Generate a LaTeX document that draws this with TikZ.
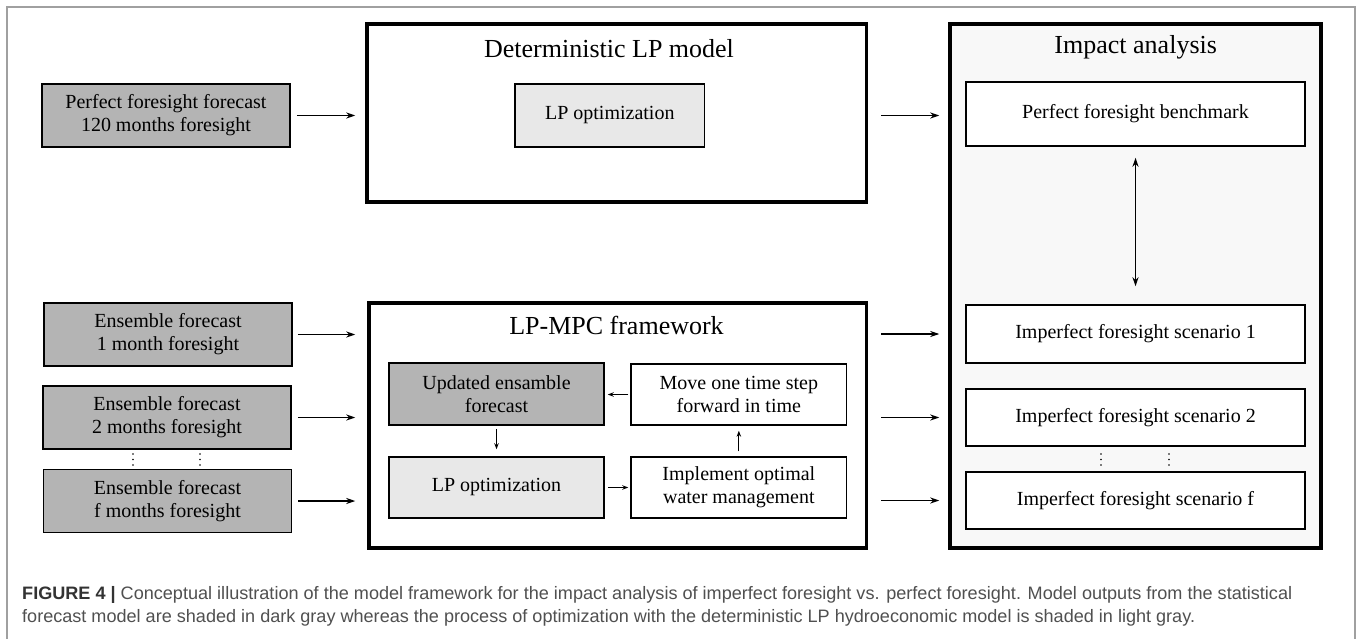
\documentclass[tikz,border=0pt]{standalone}
\usepackage{fontspec}
\setmainfont{Liberation Serif}
\newfontfamily\capfont{Liberation Sans}
\usetikzlibrary{arrows.meta}
\definecolor{darkfill}{HTML}{B4B4B4}
\definecolor{lightfill}{HTML}{E8E8E8}
\definecolor{impactfill}{HTML}{F8F8F8}
\definecolor{framegray}{HTML}{A0A0A0}
\definecolor{capdark}{HTML}{333333}
\definecolor{captext}{HTML}{505050}
\begin{document}
\begin{tikzpicture}[x=1pt,y=-1pt,
  box/.style={draw=black,line width=1.5pt,align=center,inner sep=0pt,
    font=\fontsize{20}{23}\selectfont},
  bigbox/.style={draw=black,line width=3.5pt,inner sep=0pt},
  titletext/.style={inner sep=0pt,font=\fontsize{26}{30}\selectfont},
  arr/.style={-{Stealth[length=9pt,width=6pt]},line width=1.3pt},
  smallarr/.style={-{Stealth[length=6pt,width=4.5pt]},line width=1pt},
  dbarr/.style={{Stealth[length=9pt,width=6pt]}-{Stealth[length=9pt,width=6pt]},line width=1.3pt},
  vdot/.style={fill=black,circle,inner sep=0pt,minimum size=1.8pt}
]
\useasboundingbox (0,0) rectangle (1357,639);
\fill[white] (0,0) rectangle (1357,639);
\draw[framegray,line width=2pt] (7,639) -- (7,7) -- (1355,7) -- (1355,639);

% big boxes
\node[bigbox,minimum width=499.5pt,minimum height=178pt] (det) at (616.75,113) {};
\node[bigbox,minimum width=497.5pt,minimum height=245pt] (mpc) at (617.75,425.5) {};
\node[bigbox,fill=impactfill,minimum width=371pt,minimum height=524pt] (imp) at (1135.5,286) {};

\node[titletext] (dettitle) at (609,49) {Deterministic LP model};
\node[titletext] (mpctitle) at (616.5,325) {LP-MPC framework};
\node[titletext] (imptitle) at (1135.7,47) {Impact analysis};

% left inputs
\node[box,fill=darkfill,minimum width=248pt,minimum height=63pt] (pf) at (166,115.5) {Perfect foresight forecast\\120 months foresight};
\node[box,fill=darkfill,minimum width=248pt,minimum height=63pt] (e1) at (168,334.5) {Ensemble forecast\\1 month foresight};
\node[box,fill=darkfill,minimum width=248pt,minimum height=63pt] (e2) at (167,417.5) {Ensemble forecast\\2 months foresight};
\node[box,fill=darkfill,minimum width=248pt,minimum height=63pt] (ef) at (167.5,501) {Ensemble forecast\\f months foresight};

% deterministic inner
\node[box,fill=lightfill,minimum width=189.6pt,minimum height=63pt] (lp1) at (609.8,115.5) {LP optimization};

% MPC inner
\node[box,fill=darkfill,minimum width=215pt,minimum height=62pt] (upd) at (496.5,394) {Updated ensamble\\forecast};
\node[box,fill=lightfill,minimum width=215pt,minimum height=61pt] (lp2) at (496.5,487.5) {LP optimization};
\node[box,minimum width=215.7pt,minimum height=61pt] (move) at (738.85,394.5) {Move one time step\\forward in time};
\node[box,minimum width=215.7pt,minimum height=61pt] (impl) at (738.85,487.5) {Implement optimal\\water management};

% impact inner
\node[box,fill=white,minimum width=339pt,minimum height=64pt] (bench) at (1135.5,114) {Perfect foresight benchmark};
\node[box,fill=white,minimum width=339pt,minimum height=58pt] (s1) at (1135.5,334) {Imperfect foresight scenario 1};
\node[box,fill=white,minimum width=339pt,minimum height=57pt] (s2) at (1135.5,417.5) {Imperfect foresight scenario 2};
\node[box,fill=white,minimum width=339pt,minimum height=57pt] (sf) at (1135.5,500.5) {Imperfect foresight scenario f};

% arrows left
\draw[arr,shorten <=6pt,shorten >=10pt] (pf.east) -- (pf.east -| det.west);
\draw[arr,shorten <=5pt,shorten >=12pt] (e1.east) -- (e1.east -| mpc.west);
\draw[arr,shorten <=6pt,shorten >=12pt] (e2.east) -- (e2.east -| mpc.west);
\draw[arr,shorten <=6pt,shorten >=12pt] (ef.east) -- (ef.east -| mpc.west);

% arrows right
\coordinate (r0) at (det.east |- pf.east);
\coordinate (r1) at (mpc.east |- s1.west);
\coordinate (r2) at (mpc.east |- s2.west);
\coordinate (r3) at (mpc.east |- sf.west);
\draw[arr,shorten <=13pt,shorten >=9pt] (r0) -- (r0 -| imp.west);
\draw[arr,shorten <=13pt,shorten >=9pt] (r1) -- (s1.west -| imp.west);
\draw[arr,shorten <=13pt,shorten >=9pt] (r2) -- (s2.west -| imp.west);
\draw[arr,shorten <=13pt,shorten >=9pt] (r3) -- (sf.west -| imp.west);

% double arrow
\draw[dbarr,shorten <=11pt,shorten >=18pt] (bench.south) -- (s1.north);

% MPC loop arrows
\draw[smallarr,shorten <=2pt,shorten >=3pt] (move.west) -- (move.west -| upd.east);
\draw[smallarr,shorten <=3pt,shorten >=7pt] (upd.south) -- (upd.south |- lp2.north);
\draw[smallarr,shorten <=3pt,shorten >=2pt] (lp2.east |- impl.west) -- (impl.west);
\draw[smallarr,shorten <=5pt,shorten >=5pt] (impl.north) -- (impl.north |- move.south);

% vertical dots
\foreach \x in {133,200,1101,1169}{
  \foreach \y in {454,459.5,465}{
    \fill (\x,\y) circle (0.9pt);
  }
}

% caption
\node[anchor=base west,inner sep=0pt,font=\capfont\fontsize{18}{23}\selectfont] (cap1) at (22,599)
  {\resizebox{1270pt}{\height}{\textcolor{capdark}{\textbf{FIGURE 4 |}} \textcolor{captext}{Conceptual illustration of the model framework for the impact analysis of imperfect foresight vs. perfect foresight. Model outputs from the statistical}}};
\node[anchor=base west,inner sep=0pt,font=\capfont\fontsize{18}{23}\selectfont,text=captext] (cap2) at (22,622)
  {\resizebox{1173pt}{\height}{forecast model are shaded in dark gray whereas the process of optimization with the deterministic LP hydroeconomic model is shaded in light gray.}};
\end{tikzpicture}
\end{document}
